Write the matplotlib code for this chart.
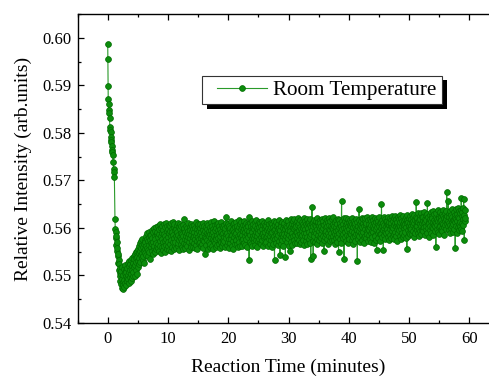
import numpy as np
import matplotlib.pyplot as plt
from matplotlib.patches import Rectangle
from matplotlib.ticker import MultipleLocator

plt.rcParams["font.family"] = ["Liberation Serif", "DejaVu Serif"]

# fast decay right after mixing (read point by point)
t_start = [0.00, 0.02, 0.04, 0.08, 0.13, 0.18, 0.24, 0.30, 0.35, 0.41, 0.46,
           0.52, 0.57, 0.62, 0.67, 0.72, 0.78, 0.83, 0.89, 0.97, 1.03, 1.10]
v_start = [0.5987, 0.5956, 0.5898, 0.5871, 0.5860, 0.5849, 0.5842, 0.5831,
           0.5813, 0.5807, 0.5801, 0.5792, 0.5785, 0.5781, 0.5773, 0.5764,
           0.5759, 0.5753, 0.5739, 0.5723, 0.5718, 0.5707]

# slow part: one row per minute, 20 readings each, first one at 1.2 min
T0, DT = 1.2, 0.05013
v_dip = [
    [0.5618, 0.5597, 0.5592, 0.5578, 0.5583, 0.5565, 0.5571, 0.5552, 0.5558, 0.5540,
     0.5546, 0.5527, 0.5532, 0.5511, 0.5524, 0.5506, 0.5498, 0.5515, 0.5489, 0.5503],
    [0.5482, 0.5509, 0.5474, 0.5493, 0.5518, 0.5471, 0.5487, 0.5502, 0.5479, 0.5514,
     0.5491, 0.5476, 0.5505, 0.5521, 0.5485, 0.5498, 0.5512, 0.5480, 0.5507, 0.5494],
    [0.5516, 0.5489, 0.5527, 0.5501, 0.5493, 0.5530, 0.5508, 0.5484, 0.5519, 0.5497,
     0.5525, 0.5511, 0.5488, 0.5533, 0.5504, 0.5520, 0.5495, 0.5537, 0.5512, 0.5499],
    [0.5526, 0.5508, 0.5541, 0.5517, 0.5534, 0.5499, 0.5545, 0.5522, 0.5537, 0.5511,
     0.5549, 0.5528, 0.5503, 0.5552, 0.5539, 0.5518, 0.5556, 0.5531, 0.5547, 0.5525],
    [0.5561, 0.5536, 0.5552, 0.5569, 0.5529, 0.5558, 0.5543, 0.5572, 0.5537, 0.5564,
     0.5548, 0.5576, 0.5532, 0.5559, 0.5541, 0.5567, 0.5551, 0.5526, 0.5574, 0.5555],
    [0.5570, 0.5548, 0.5583, 0.5561, 0.5544, 0.5577, 0.5558, 0.5589, 0.5553, 0.5572,
     0.5540, 0.5581, 0.5565, 0.5592, 0.5549, 0.5575, 0.5534, 0.5586, 0.5559, 0.5568],
    [0.5585, 0.5552, 0.5596, 0.5567, 0.5579, 0.5546, 0.5591, 0.5571, 0.5558, 0.5599,
     0.5563, 0.5582, 0.5549, 0.5594, 0.5576, 0.5555, 0.5601, 0.5569, 0.5587, 0.5560],
    [0.5592, 0.5557, 0.5581, 0.5604, 0.5566, 0.5588, 0.5551, 0.5597, 0.5573, 0.5608,
     0.5562, 0.5584, 0.5548, 0.5599, 0.5577, 0.5605, 0.5559, 0.5590, 0.5570, 0.5553],
    [0.5596, 0.5561, 0.5587, 0.5609, 0.5572, 0.5550, 0.5601, 0.5583, 0.5565, 0.5611,
     0.5576, 0.5593, 0.5556, 0.5604, 0.5580, 0.5562, 0.5598, 0.5571, 0.5607, 0.5553],
    [0.5589, 0.5605, 0.5567, 0.5594, 0.5552, 0.5583, 0.5610, 0.5574, 0.5598, 0.5559,
     0.5591, 0.5613, 0.5570, 0.5586, 0.5555, 0.5602, 0.5578, 0.5608, 0.5563, 0.5595],
]
v_mid = [
    [0.5571, 0.5598, 0.5584, 0.5557, 0.5606, 0.5579, 0.5592, 0.5563, 0.5611, 0.5586,
     0.5568, 0.5601, 0.5575, 0.5554, 0.5597, 0.5581, 0.5609, 0.5566, 0.5590, 0.5577],
    [0.5603, 0.5560, 0.5588, 0.5573, 0.5607, 0.5582, 0.5556, 0.5595, 0.5569, 0.5600,
     0.5618, 0.5576, 0.5591, 0.5558, 0.5605, 0.5583, 0.5567, 0.5599, 0.5574, 0.5589],
    [0.5562, 0.5594, 0.5580, 0.5610, 0.5571, 0.5587, 0.5553, 0.5602, 0.5578, 0.5596,
     0.5565, 0.5608, 0.5585, 0.5559, 0.5593, 0.5572, 0.5604, 0.5581, 0.5560, 0.5598],
    [0.5584, 0.5606, 0.5569, 0.5591, 0.5557, 0.5600, 0.5577, 0.5612, 0.5586, 0.5564,
     0.5597, 0.5573, 0.5589, 0.5555, 0.5603, 0.5580, 0.5609, 0.5568, 0.5594, 0.5576],
    [0.5599, 0.5570, 0.5587, 0.5608, 0.5561, 0.5592, 0.5579, 0.5604, 0.5566, 0.5583,
     0.5611, 0.5575, 0.5596, 0.5558, 0.5590, 0.5572, 0.5605, 0.5581, 0.5546, 0.5593],
    [0.5578, 0.5602, 0.5565, 0.5589, 0.5610, 0.5574, 0.5597, 0.5556, 0.5585, 0.5607,
     0.5571, 0.5593, 0.5582, 0.5560, 0.5601, 0.5588, 0.5567, 0.5613, 0.5579, 0.5595],
    [0.5587, 0.5563, 0.5604, 0.5576, 0.5598, 0.5555, 0.5591, 0.5614, 0.5572, 0.5584,
     0.5606, 0.5568, 0.5595, 0.5580, 0.5559, 0.5600, 0.5577, 0.5608, 0.5586, 0.5564],
    [0.5596, 0.5579, 0.5610, 0.5566, 0.5589, 0.5603, 0.5574, 0.5557, 0.5598, 0.5583,
     0.5612, 0.5570, 0.5592, 0.5561, 0.5605, 0.5587, 0.5575, 0.5601, 0.5568, 0.5590],
    [0.5581, 0.5607, 0.5573, 0.5594, 0.5560, 0.5599, 0.5585, 0.5611, 0.5622, 0.5578,
     0.5603, 0.5565, 0.5590, 0.5571, 0.5609, 0.5584, 0.5558, 0.5597, 0.5576, 0.5604],
    [0.5593, 0.5569, 0.5600, 0.5582, 0.5614, 0.5577, 0.5562, 0.5595, 0.5586, 0.5608,
     0.5572, 0.5598, 0.5556, 0.5591, 0.5580, 0.5611, 0.5567, 0.5602, 0.5588, 0.5574],
    [0.5590, 0.5613, 0.5575, 0.5599, 0.5566, 0.5604, 0.5583, 0.5560, 0.5595, 0.5616,
     0.5579, 0.5601, 0.5570, 0.5588, 0.5609, 0.5563, 0.5597, 0.5581, 0.5612, 0.5574],
    [0.5602, 0.5585, 0.5561, 0.5607, 0.5577, 0.5593, 0.5615, 0.5569, 0.5598, 0.5582,
     0.5606, 0.5564, 0.5591, 0.5611, 0.5576, 0.5600, 0.5587, 0.5559, 0.5596, 0.5608],
    [0.5580, 0.5603, 0.5622, 0.5589, 0.5532, 0.5594, 0.5571, 0.5610, 0.5585, 0.5599,
     0.5567, 0.5605, 0.5578, 0.5614, 0.5592, 0.5562, 0.5601, 0.5583, 0.5609, 0.5573],
    [0.5597, 0.5579, 0.5612, 0.5586, 0.5565, 0.5604, 0.5591, 0.5617, 0.5575, 0.5600,
     0.5583, 0.5560, 0.5595, 0.5608, 0.5572, 0.5589, 0.5613, 0.5577, 0.5602, 0.5568],
    [0.5594, 0.5610, 0.5581, 0.5566, 0.5603, 0.5587, 0.5615, 0.5574, 0.5598, 0.5562,
     0.5606, 0.5590, 0.5578, 0.5611, 0.5584, 0.5599, 0.5569, 0.5607, 0.5592, 0.5580],
    [0.5605, 0.5571, 0.5596, 0.5613, 0.5584, 0.5563, 0.5600, 0.5588, 0.5616, 0.5577,
     0.5593, 0.5608, 0.5567, 0.5597, 0.5582, 0.5611, 0.5574, 0.5602, 0.5589, 0.5560],
    [0.5592, 0.5609, 0.5578, 0.5601, 0.5566, 0.5595, 0.5614, 0.5583, 0.5532, 0.5598,
     0.5576, 0.5606, 0.5587, 0.5569, 0.5612, 0.5591, 0.5579, 0.5603, 0.5564, 0.5597],
    [0.5608, 0.5585, 0.5600, 0.5572, 0.5616, 0.5590, 0.5543, 0.5596, 0.5579, 0.5610,
     0.5567, 0.5604, 0.5588, 0.5613, 0.5575, 0.5599, 0.5582, 0.5561, 0.5606, 0.5593],
    [0.5587, 0.5611, 0.5576, 0.5598, 0.5538, 0.5605, 0.5583, 0.5617, 0.5592, 0.5570,
     0.5601, 0.5589, 0.5614, 0.5578, 0.5596, 0.5563, 0.5607, 0.5585, 0.5552, 0.5600],
    [0.5594, 0.5618, 0.5581, 0.5603, 0.5571, 0.5609, 0.5590, 0.5565, 0.5599, 0.5614,
     0.5584, 0.5606, 0.5575, 0.5597, 0.5619, 0.5586, 0.5602, 0.5568, 0.5610, 0.5591],
]
v_late = [
    [0.5603, 0.5579, 0.5614, 0.5591, 0.5568, 0.5607, 0.5585, 0.5620, 0.5596, 0.5574,
     0.5610, 0.5588, 0.5566, 0.5601, 0.5617, 0.5582, 0.5598, 0.5571, 0.5612, 0.5593],
    [0.5586, 0.5609, 0.5575, 0.5600, 0.5621, 0.5590, 0.5564, 0.5605, 0.5583, 0.5615,
     0.5597, 0.5572, 0.5608, 0.5589, 0.5619, 0.5580, 0.5603, 0.5567, 0.5595, 0.5611],
    [0.5599, 0.5577, 0.5613, 0.5592, 0.5569, 0.5606, 0.5584, 0.5618, 0.5535, 0.5601,
     0.5587, 0.5610, 0.5644, 0.5595, 0.5573, 0.5612, 0.5541, 0.5604, 0.5590, 0.5616],
    [0.5582, 0.5607, 0.5594, 0.5570, 0.5615, 0.5589, 0.5603, 0.5576, 0.5620, 0.5598,
     0.5566, 0.5609, 0.5585, 0.5612, 0.5593, 0.5574, 0.5605, 0.5617, 0.5581, 0.5600],
    [0.5611, 0.5588, 0.5604, 0.5578, 0.5618, 0.5596, 0.5569, 0.5608, 0.5583, 0.5614,
     0.5599, 0.5575, 0.5552, 0.5606, 0.5591, 0.5621, 0.5580, 0.5602, 0.5587, 0.5610],
    [0.5593, 0.5616, 0.5577, 0.5604, 0.5589, 0.5612, 0.5567, 0.5598, 0.5620, 0.5584,
     0.5607, 0.5572, 0.5595, 0.5614, 0.5581, 0.5603, 0.5590, 0.5618, 0.5575, 0.5600],
    [0.5608, 0.5583, 0.5597, 0.5622, 0.5574, 0.5605, 0.5591, 0.5566, 0.5613, 0.5587,
     0.5601, 0.5578, 0.5616, 0.5594, 0.5570, 0.5609, 0.5585, 0.5619, 0.5596, 0.5580],
    [0.5550, 0.5602, 0.5617, 0.5589, 0.5606, 0.5576, 0.5611, 0.5593, 0.5568, 0.5604,
     0.5656, 0.5584, 0.5614, 0.5597, 0.5579, 0.5609, 0.5588, 0.5620, 0.5535, 0.5599],
    [0.5592, 0.5615, 0.5581, 0.5607, 0.5573, 0.5600, 0.5621, 0.5586, 0.5610, 0.5595,
     0.5569, 0.5604, 0.5618, 0.5583, 0.5598, 0.5612, 0.5577, 0.5606, 0.5590, 0.5616],
    [0.5603, 0.5587, 0.5613, 0.5575, 0.5609, 0.5594, 0.5620, 0.5580, 0.5601, 0.5567,
     0.5608, 0.5591, 0.5615, 0.5584, 0.5605, 0.5572, 0.5611, 0.5597, 0.5619, 0.5588],
    [0.5596, 0.5612, 0.5530, 0.5588, 0.5604, 0.5577, 0.5617, 0.5593, 0.5639, 0.5582,
     0.5608, 0.5599, 0.5570, 0.5614, 0.5590, 0.5605, 0.5621, 0.5585, 0.5601, 0.5574],
    [0.5610, 0.5592, 0.5618, 0.5581, 0.5603, 0.5569, 0.5615, 0.5597, 0.5584, 0.5620,
     0.5606, 0.5578, 0.5611, 0.5594, 0.5623, 0.5587, 0.5600, 0.5573, 0.5616, 0.5598],
    [0.5585, 0.5609, 0.5596, 0.5619, 0.5576, 0.5602, 0.5589, 0.5614, 0.5571, 0.5607,
     0.5593, 0.5622, 0.5580, 0.5604, 0.5617, 0.5591, 0.5568, 0.5611, 0.5599, 0.5586],
    [0.5606, 0.5620, 0.5583, 0.5597, 0.5612, 0.5575, 0.5553, 0.5601, 0.5618, 0.5590,
     0.5608, 0.5579, 0.5615, 0.5594, 0.5603, 0.5624, 0.5587, 0.5610, 0.5572, 0.5599],
    [0.5612, 0.5588, 0.5651, 0.5605, 0.5581, 0.5617, 0.5596, 0.5610, 0.5553, 0.5600,
     0.5623, 0.5585, 0.5607, 0.5592, 0.5619, 0.5576, 0.5603, 0.5614, 0.5589, 0.5608],
    [0.5597, 0.5615, 0.5580, 0.5609, 0.5624, 0.5591, 0.5606, 0.5574, 0.5612, 0.5598,
     0.5620, 0.5586, 0.5603, 0.5617, 0.5578, 0.5610, 0.5593, 0.5625, 0.5601, 0.5583],
    [0.5614, 0.5599, 0.5621, 0.5587, 0.5606, 0.5576, 0.5611, 0.5626, 0.5592, 0.5604,
     0.5582, 0.5618, 0.5597, 0.5609, 0.5573, 0.5613, 0.5602, 0.5623, 0.5589, 0.5607],
    [0.5595, 0.5618, 0.5605, 0.5627, 0.5584, 0.5612, 0.5598, 0.5577, 0.5620, 0.5603,
     0.5615, 0.5590, 0.5609, 0.5580, 0.5625, 0.5600, 0.5614, 0.5586, 0.5606, 0.5619],
    [0.5608, 0.5592, 0.5622, 0.5601, 0.5579, 0.5616, 0.5555, 0.5610, 0.5628, 0.5596,
     0.5613, 0.5583, 0.5605, 0.5621, 0.5590, 0.5611, 0.5599, 0.5626, 0.5587, 0.5603],
    [0.5619, 0.5597, 0.5612, 0.5630, 0.5588, 0.5607, 0.5623, 0.5593, 0.5615, 0.5581,
     0.5610, 0.5627, 0.5600, 0.5617, 0.5589, 0.5624, 0.5605, 0.5654, 0.5614, 0.5595],
    [0.5604, 0.5621, 0.5590, 0.5613, 0.5632, 0.5598, 0.5616, 0.5583, 0.5609, 0.5626,
     0.5594, 0.5618, 0.5603, 0.5631, 0.5587, 0.5611, 0.5624, 0.5596, 0.5615, 0.5600],
    [0.5622, 0.5593, 0.5610, 0.5634, 0.5601, 0.5619, 0.5585, 0.5612, 0.5628, 0.5597,
     0.5616, 0.5605, 0.5630, 0.5589, 0.5652, 0.5608, 0.5623, 0.5599, 0.5614, 0.5581],
    [0.5611, 0.5627, 0.5596, 0.5618, 0.5604, 0.5633, 0.5590, 0.5615, 0.5625, 0.5601,
     0.5620, 0.5586, 0.5612, 0.5636, 0.5599, 0.5617, 0.5607, 0.5629, 0.5594, 0.5613],
    [0.5603, 0.5624, 0.5559, 0.5610, 0.5631, 0.5598, 0.5619, 0.5606, 0.5637, 0.5592,
     0.5615, 0.5626, 0.5601, 0.5621, 0.5588, 0.5614, 0.5634, 0.5605, 0.5622, 0.5596],
    [0.5617, 0.5600, 0.5629, 0.5611, 0.5593, 0.5625, 0.5608, 0.5638, 0.5602, 0.5620,
     0.5586, 0.5614, 0.5632, 0.5606, 0.5623, 0.5597, 0.5618, 0.5635, 0.5676, 0.5609],
    [0.5626, 0.5603, 0.5656, 0.5615, 0.5595, 0.5630, 0.5611, 0.5622, 0.5589, 0.5636,
     0.5607, 0.5619, 0.5599, 0.5628, 0.5613, 0.5640, 0.5604, 0.5624, 0.5592, 0.5617],
    [0.5609, 0.5633, 0.5616, 0.5598, 0.5627, 0.5612, 0.5557, 0.5621, 0.5639, 0.5605,
     0.5618, 0.5590, 0.5630, 0.5614, 0.5601, 0.5642, 0.5623, 0.5608, 0.5635, 0.5596],
    [0.5620, 0.5604, 0.5631, 0.5612, 0.5638, 0.5597, 0.5662, 0.5625, 0.5610, 0.5634,
     0.5593, 0.5618, 0.5641, 0.5606, 0.5660, 0.5627, 0.5574, 0.5615, 0.5637, 0.5621],
]

v_main = np.array(v_dip + v_mid + v_late).ravel()
t_main = T0 + DT * np.arange(len(v_main))
t = np.concatenate([t_start, t_main])
v = np.concatenate([v_start, v_main])

# 4.8901 so that the canvas really is 489 px wide
fig = plt.figure(figsize=(4.8901, 3.7601), dpi=100)
ax = fig.add_axes([77.6 / 489, 53 / 376, 421.9 / 489, 309 / 376])

ax.plot(t, v, color="#2a9a2a", lw=0.8, marker="o", ms=4.2,
        mfc="#0c8c0c", mec="#006a00", mew=0.5, label="Room Temperature")

ax.set_xlim(-5, 65)
ax.set_ylim(0.54, 0.605)
ax.xaxis.set_major_locator(MultipleLocator(10))
ax.xaxis.set_minor_locator(MultipleLocator(5))
ax.yaxis.set_major_locator(MultipleLocator(0.01))
ax.yaxis.set_minor_locator(MultipleLocator(0.005))
ax.yaxis.set_major_formatter(lambda y, pos: f"{y:.2f}")
ax.tick_params(which="both", direction="in", top=True, right=False, width=0.9)
ax.tick_params(which="major", length=4.5, labelsize=12)
ax.tick_params(axis="x", which="major", pad=6)
ax.tick_params(axis="y", which="major", pad=4.5)
ax.tick_params(which="minor", length=2.5)
for sp in ax.spines.values():
    sp.set_linewidth(1.0)
ax.spines["right"].set_visible(False)

ax.set_xlabel("Reaction Time (minutes)", fontsize=14, labelpad=8)
ax.set_ylabel("Relative Intensity (arb.units)", fontsize=14, labelpad=7)

# legend box drawn by hand: shadow, white frame, then the entry on top
ax.add_patch(Rectangle((0.3056, 0.6941), 0.5688, 0.0907, transform=ax.transAxes,
                       facecolor="black", edgecolor="none", zorder=4.8,
                       clip_on=False))
ax.add_patch(Rectangle((0.2949, 0.7087), 0.5688, 0.0907, transform=ax.transAxes,
                       facecolor="white", edgecolor="#333333", lw=0.8,
                       zorder=4.9, clip_on=False))
ax.legend(loc="center left", bbox_to_anchor=(0.3304, 0.754), fontsize=15.2,
          frameon=False, borderpad=0, borderaxespad=0, handlelength=2.35,
          handletextpad=0.3, numpoints=1)

fig.savefig("out.png", dpi=100)
